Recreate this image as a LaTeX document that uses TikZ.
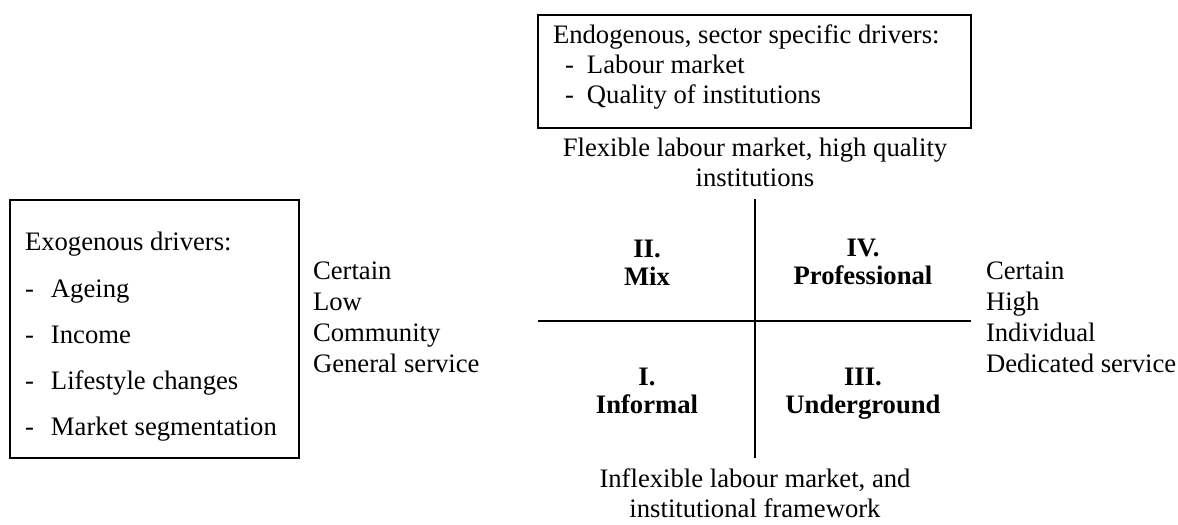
\documentclass[tikz,border=0pt]{standalone}
\usepackage{fontspec}
\setmainfont{Liberation Serif}
\usetikzlibrary{fit}
\newcommand{\dashitem}[1]{\makebox[11.7pt][l]{-}#1}
\newcommand{\dashitemb}[1]{\makebox[9.9pt][l]{-}#1}
\begin{document}
\begin{tikzpicture}[x=0.45pt,y=-0.45pt,
  txt/.style={inner sep=0pt,outer sep=0pt,font=\fontsize{12pt}{13.8pt}\selectfont},
  quad/.style={txt,align=center,anchor=base,font=\fontsize{12pt}{12.4pt}\selectfont\bfseries},
  frame/.style={draw,line width=0.95pt,inner sep=0pt},
  axis/.style={line width=0.95pt}]
\useasboundingbox (0,0) rectangle (1178,524);
% boxes
\node[frame,fit={(10,200) (299,458)}] (exo) {};
\node[frame,fit={(538,15) (971,128)}] (endo) {};
% exogenous box text
\node[txt,anchor=base west] (exot) at (25,250) {Exogenous drivers:};
\node[txt,anchor=base west] (e1) at (25,297) {\dashitem{Ageing}};
\node[txt,anchor=base west] (e2) at (25,343) {\dashitem{Income}};
\node[txt,anchor=base west] (e3) at (25,389) {\dashitem{Lifestyle changes}};
\node[txt,anchor=base west] (e4) at (25,435) {\dashitem{Market segmentation}};
% endogenous box text
\node[txt,anchor=base west] (endot) at (553,43) {Endogenous, sector specific drivers:};
\node[txt,anchor=base west] (n1) at (565,73) {\dashitemb{Labour market}};
\node[txt,anchor=base west] (n2) at (565,103) {\dashitemb{Quality of institutions}};
% axis labels
\node[txt,anchor=base] (top1) at (755,156) {Flexible labour market, high quality};
\node[txt,anchor=base] (top2) at (755,186) {institutions};
\node[txt,anchor=base] (bot1) at (755,487) {Inflexible labour market, and};
\node[txt,anchor=base] (bot2) at (755,517) {institutional framework};
% side lists
\node[txt,anchor=base west] (l1) at (313,279) {Certain};
\node[txt,anchor=base west] (l2) at (313,310) {Low};
\node[txt,anchor=base west] (l3) at (313,341) {Community};
\node[txt,anchor=base west] (l4) at (313,372) {General service};
\node[txt,anchor=base west] (r1) at (986,279) {Certain};
\node[txt,anchor=base west] (r2) at (986,310) {High};
\node[txt,anchor=base west] (r3) at (986,341) {Individual};
\node[txt,anchor=base west] (r4) at (986,372) {Dedicated service};
% cross
\coordinate (vt) at (755,199);
\coordinate (vb) at (755,458);
\coordinate (hl) at (538,321);
\coordinate (hr) at (971,321);
\draw[axis] (vt) -- (vb);
\draw[axis] (hl) -- (hr);
% quadrants (anchor at baseline of second line)
\node[quad] (q2) at (647,285) {II.\\Mix};
\node[quad] (q4) at (863,284) {IV.\\Professional};
\node[quad] (q1) at (647,413) {I.\\Informal};
\node[quad] (q3) at (863,413) {III.\\Underground};
\end{tikzpicture}
\end{document}
